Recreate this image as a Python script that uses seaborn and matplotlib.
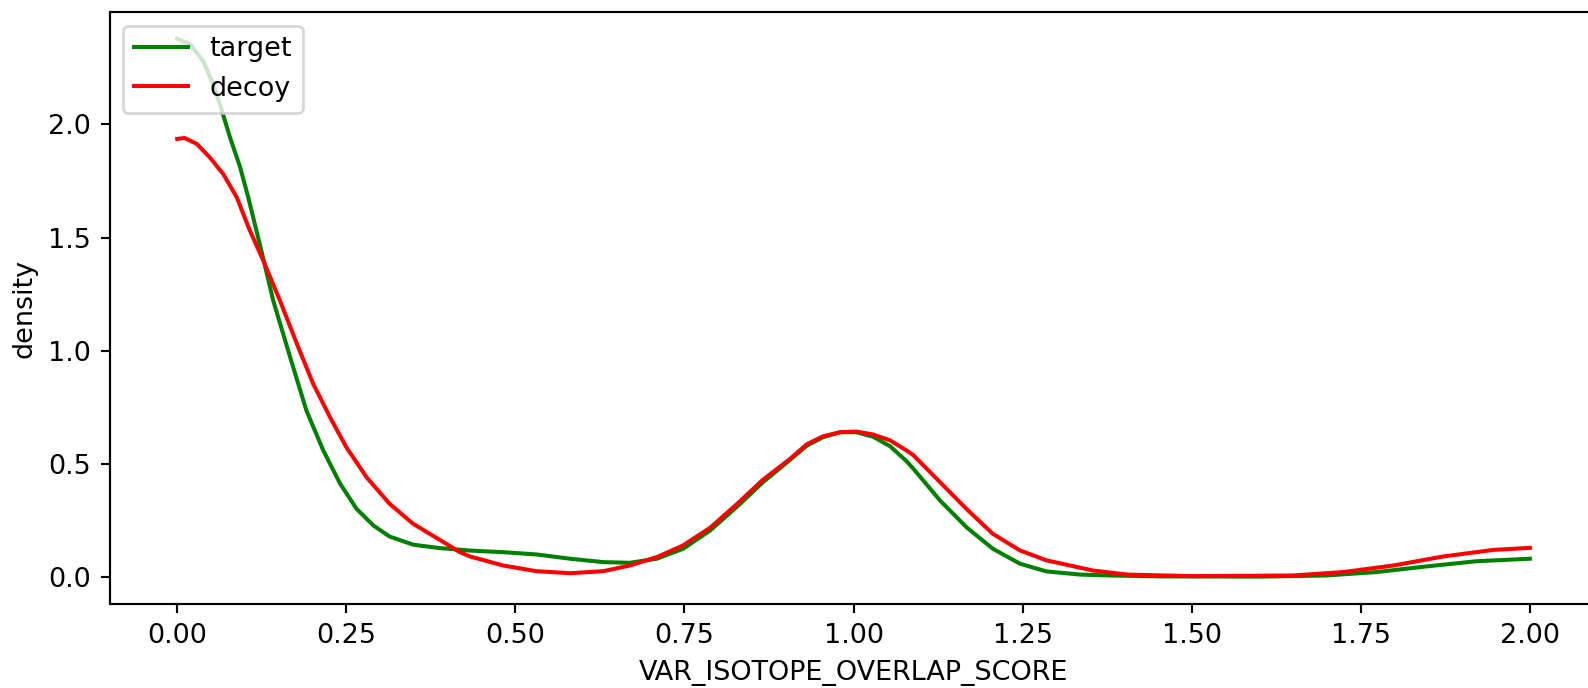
import numpy as np
import pandas as pd
import matplotlib
matplotlib.use("Agg")
import matplotlib.pyplot as plt
import seaborn as sns

# значення
target_x = [0.0, 0.019, 0.038, 0.053, 0.066, 0.078, 0.093, 0.105, 0.127, 0.142,
            0.167, 0.191, 0.216, 0.241, 0.265, 0.290, 0.314, 0.349, 0.388, 0.433,
            0.482, 0.531, 0.581, 0.630, 0.669, 0.709, 0.748, 0.788, 0.827, 0.866,
            0.906, 0.931, 0.955, 0.980, 1.004, 1.029, 1.054, 1.078, 1.088, 1.128,
            1.167, 1.206, 1.246, 1.285, 1.335, 1.379, 1.453, 1.601, 1.699, 1.773,
            1.847, 1.921, 2.0]
target_y = [2.378, 2.355, 2.282, 2.179, 2.061, 1.943, 1.811, 1.678, 1.41, 1.221,
            0.971, 0.736, 0.559, 0.412, 0.302, 0.228, 0.179, 0.143, 0.128, 0.117,
            0.110, 0.100, 0.081, 0.066, 0.063, 0.081, 0.125, 0.206, 0.309, 0.419,
            0.518, 0.581, 0.618, 0.640, 0.640, 0.620, 0.578, 0.513, 0.480, 0.338,
            0.220, 0.125, 0.059, 0.025, 0.011, 0.007, 0.003, 0.002, 0.007, 0.022,
            0.047, 0.070, 0.081]

decoy_x = [0.0, 0.011, 0.029, 0.048, 0.068, 0.088, 0.107, 0.127, 0.152, 0.177,
           0.201, 0.226, 0.250, 0.280, 0.314, 0.349, 0.388, 0.418, 0.433, 0.482,
           0.531, 0.581, 0.630, 0.669, 0.709, 0.748, 0.788, 0.827, 0.866, 0.906,
           0.931, 0.955, 0.980, 1.004, 1.029, 1.054, 1.078, 1.088, 1.128, 1.167,
           1.206, 1.246, 1.285, 1.305, 1.354, 1.404, 1.502, 1.650, 1.724, 1.798,
           1.872, 1.946, 2.0]
decoy_y = [1.936, 1.940, 1.914, 1.855, 1.781, 1.678, 1.534, 1.40, 1.221, 1.03,
           0.854, 0.706, 0.574, 0.441, 0.324, 0.235, 0.165, 0.110, 0.091, 0.051,
           0.026, 0.017, 0.026, 0.051, 0.088, 0.140, 0.218, 0.321, 0.43, 0.522,
           0.587, 0.622, 0.640, 0.643, 0.630, 0.604, 0.560, 0.540, 0.419, 0.301,
           0.191, 0.118, 0.074, 0.061, 0.029, 0.011, 0.004, 0.007, 0.022, 0.051,
           0.091, 0.120, 0.129]

df = pd.concat([
    pd.DataFrame({"x": target_x, "density": target_y, "label": "target"}),
    pd.DataFrame({"x": decoy_x, "density": decoy_y, "label": "decoy"}),
])

dpi = 194
fig = plt.figure(figsize=(1589 / dpi, 688 / dpi), dpi=dpi)
ax = fig.add_axes([0.06897, 0.1221, 0.9364, 0.8602])

sns.lineplot(data=df, x="x", y="density", hue="label", hue_order=["target", "decoy"],
             palette={"target": "green", "decoy": "red"}, estimator=None,
             sort=True, linewidth=1.5, ax=ax)

ax.set_xlim(-0.1, 2.1)
ax.set_ylim(-0.119, 2.496)
ax.set_xticks([0, 0.25, 0.5, 0.75, 1.0, 1.25, 1.5, 1.75, 2.0])
ax.set_xticklabels(["0.00", "0.25", "0.50", "0.75", "1.00", "1.25", "1.50", "1.75", "2.00"])
ax.set_yticks([0.0, 0.5, 1.0, 1.5, 2.0])
ax.set_yticklabels(["0.0", "0.5", "1.0", "1.5", "2.0"])
ax.set_xlabel("VAR_ISOTOPE_OVERLAP_SCORE")
ax.set_ylabel("density")
ax.legend(loc="upper left")

fig.savefig("out.png", dpi=dpi)
